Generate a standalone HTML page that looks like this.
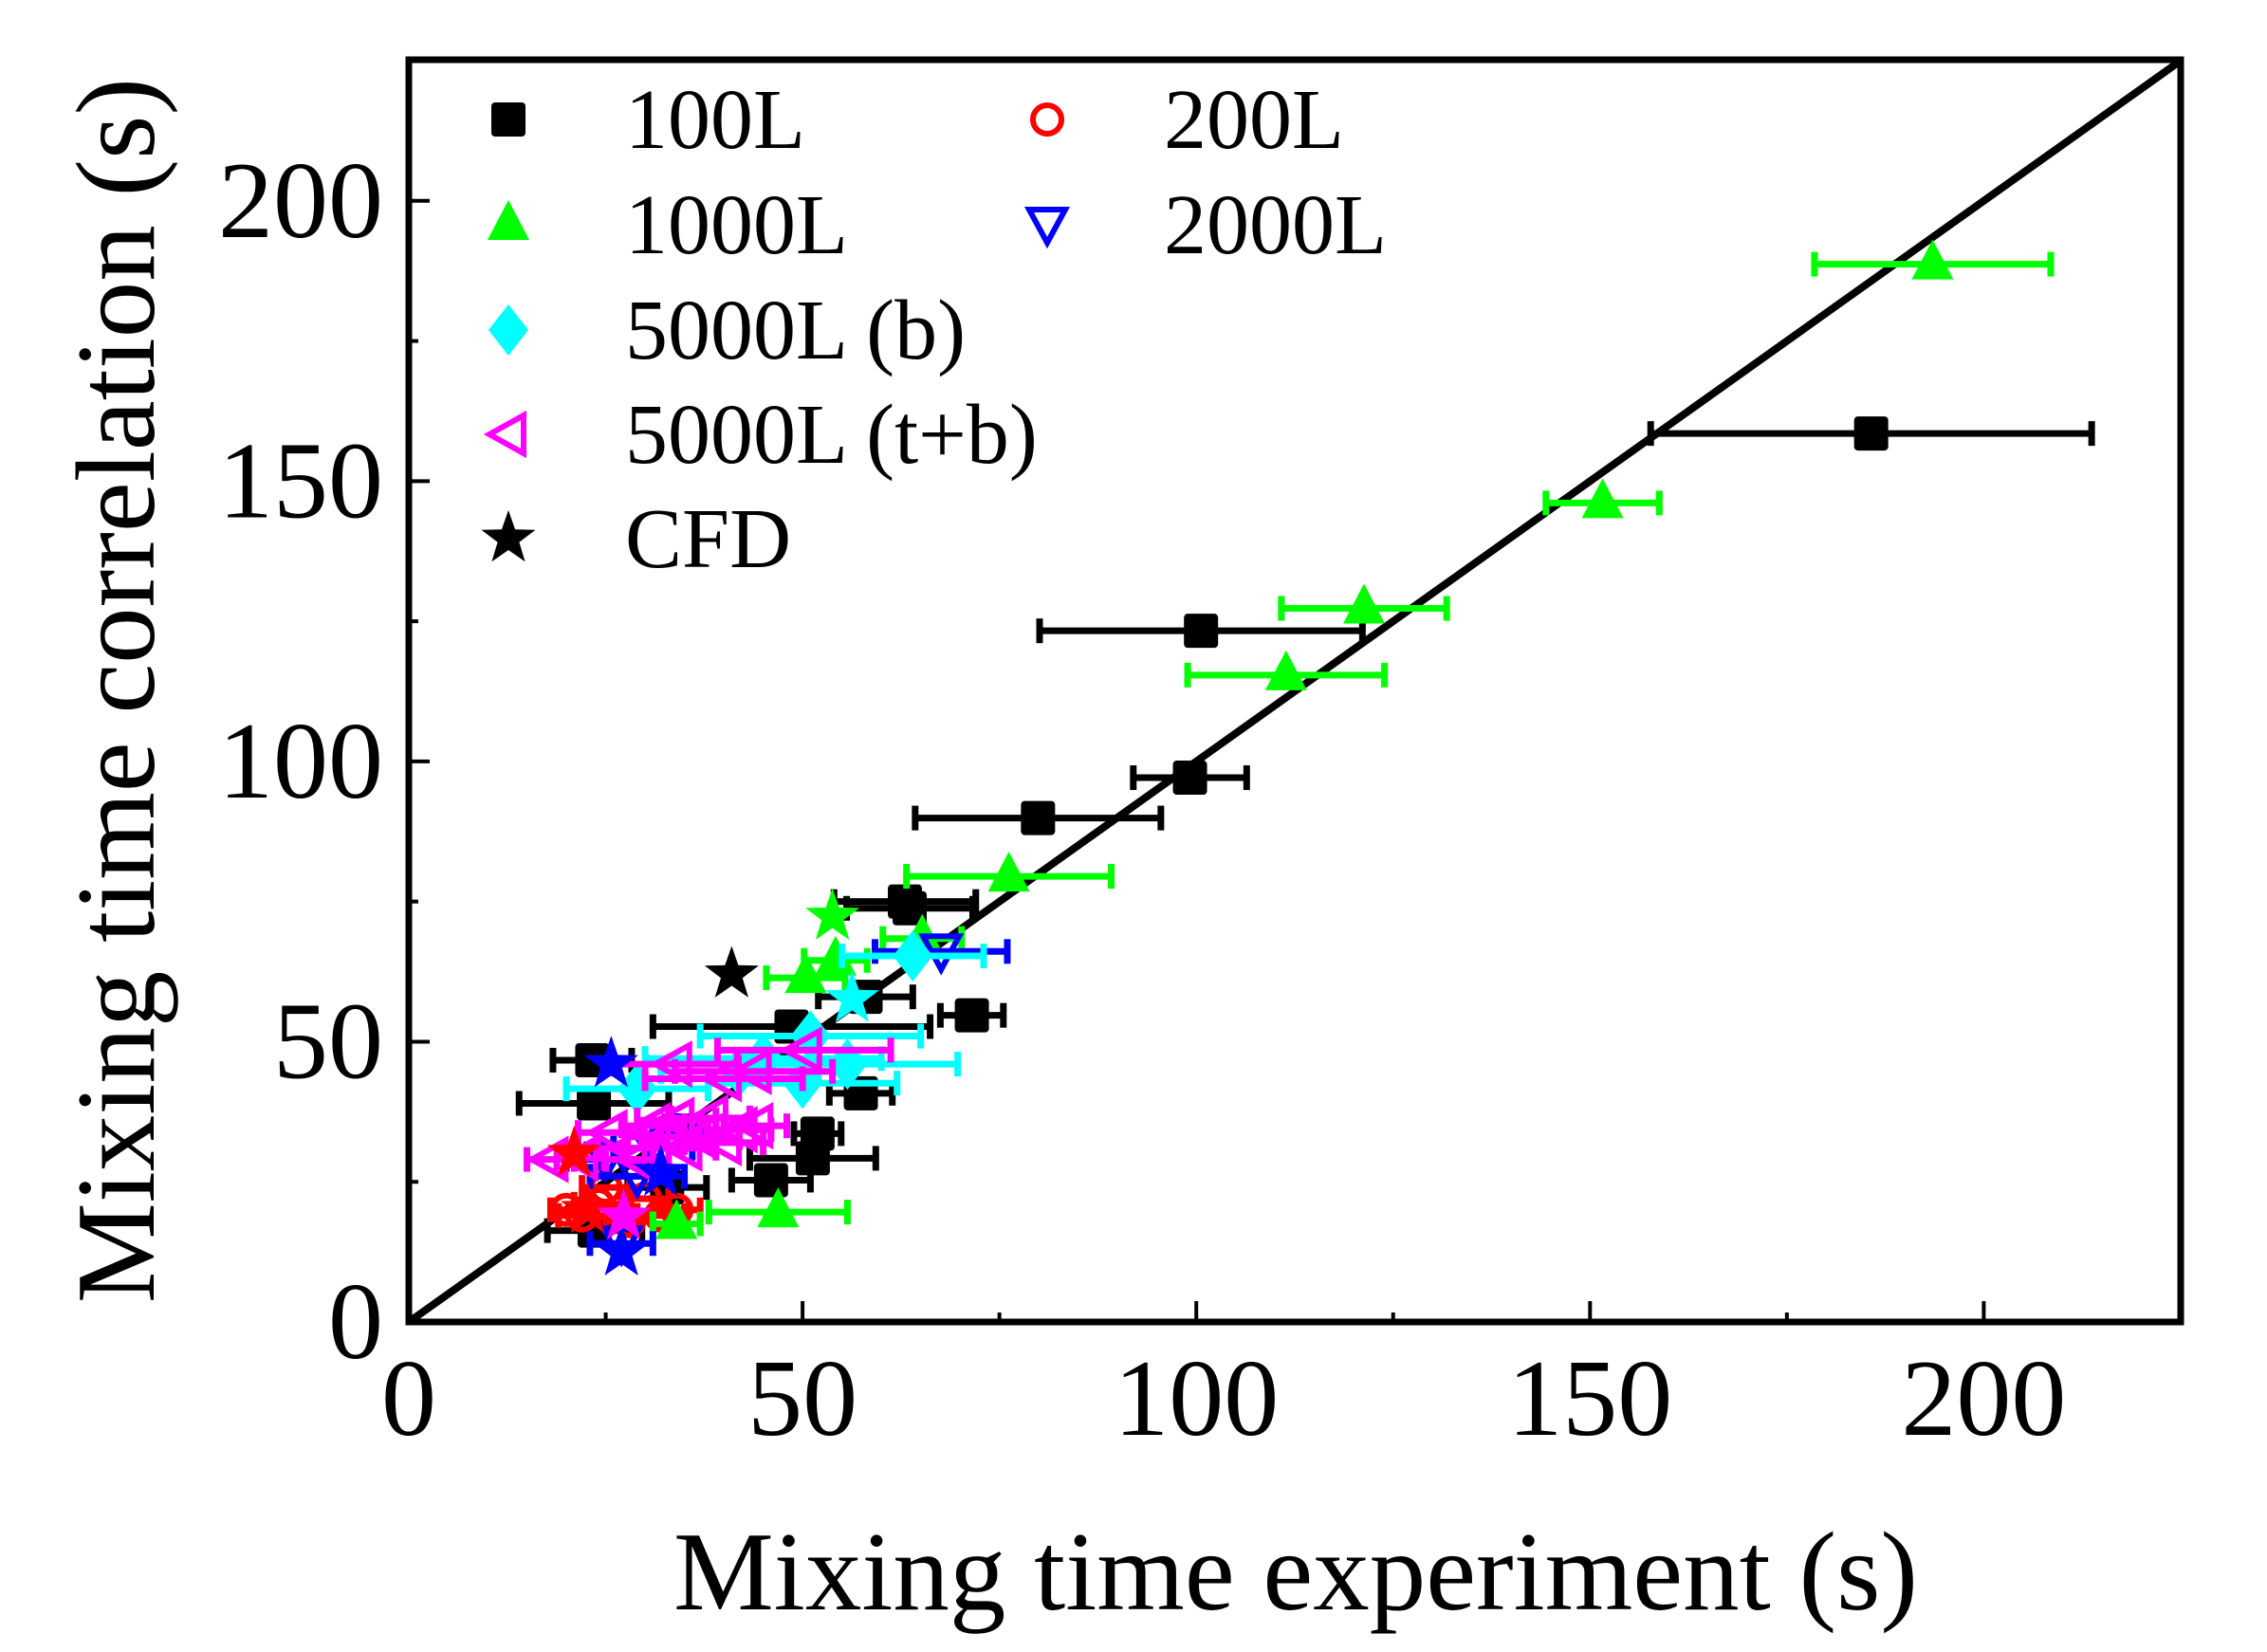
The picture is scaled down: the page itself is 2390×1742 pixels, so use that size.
<!DOCTYPE html>
<html><head><meta charset="utf-8"><style>
html,body{margin:0;padding:0;background:#fff;}
svg{display:block;font-family:"Liberation Serif",serif;}
</style></head><body>
<svg id="chart" width="2390" height="1742" viewBox="0 0 2390 1742" xmlns="http://www.w3.org/2000/svg">
<g id="grid"></g>
<g id="marks"></g>
<g id="axes"></g>
<g id="legend"></g>
<text x="1366" y="1697" font-size="119" text-anchor="middle">Mixing time experiment (s)</text>
<text transform="translate(162,728) rotate(-90)" font-size="119" text-anchor="middle">Mixing time correlation (s)</text>
</svg>
<script>
const xTicks=[0,50,100,150,200];
const yTicks=[0,50,100,150,200];
const minorTicks=[25,75,125,175];
// 100L
const s100x=[185.7,100.6,99.2,79.9,63.6,71.5,48.6,57.4,51.9,51.3,46,23.3,23.5,23.6,32.8,58,63];
const s100y=[158.5,123.3,97.1,89.9,73.8,54.7,52.7,40.8,33.6,29.2,25.3,46.7,39,16.3,24,58,75];
const s100e=[28,20.5,7.2,15.6,8,4,17.6,4,3,8,5,5,9.5,6,5,6,9];
// 200L
const s200x=[22,24,32,20,28,30,34,25];
const s200y=[19,21,19,20,18,22,20,24];
const s200e=[3,3,3,2,3,3,3,3];
// 1000L
const s1000x=[193.5,151.6,121.3,111.4,76.2,65.2,54.2,50.4,46.9,34];
const s1000y=[188.7,146.1,127.3,115.4,79.5,68.4,64.5,61.4,19.6,17.5];
const s1000e=[15,7.2,10.5,12.5,13,5,4,5,8.8,3];
// 2000L
const s2000x=[67.6,25,29,27,31,35];
const s2000y=[66.1,29,26,14,31,34];
const s2000e=[8.4,5,6,4,5,4];
// 5000L (b)
const s5bx=[64,51,42,29,55.7,50,45];
const s5by=[65.3,51,44.7,41.6,46,42.6,47];
const s5be=[9,14,10,9,14,12,15];
// 5000L (t+b)
const s5tx=[33.7,50.2,43.8,40,25.5,32.8,38.3,42,29,21.8,18,35,31,37,40,44,28,34];
const s5ty=[46,48.5,44.7,43.4,33.8,33,36.4,34.3,29,29.2,29,31,35,33,32,35,31,36];
const s5te=[8,11,10,10,4,5,5,4,4,3,3,4,4,5,5,4,4,5];
// CFD stars (series index selects colour)
const cfdX=[41,53.8,56.3,21,22.7,25.7,32,27,27.3];
const cfdY=[62,72.3,57.6,30,20,46,26.6,12.4,18.8];
const cfdSeries=[0,2,4,1,1,3,3,3,5];

const X=v=>431+v*8.302, Y=v=>1394-v*5.911;
const NS="http://www.w3.org/2000/svg";
function mk(tag,attrs,parent){const e=document.createElementNS(NS,tag);for(const k in attrs)e.setAttribute(k,attrs[k]);parent.appendChild(e);return e;}
const marks=document.getElementById('marks'),axes=document.getElementById('axes'),legend=document.getElementById('legend');
const colors=['#000','#f00','#0f0','#00f','#0ff','#f0f'];

function shape(kind,cx,cy,col,parent){
  let e;const r=18;
  if(kind==='sq'){e=mk('rect',{x:cx-r,y:cy-r,width:2*r,height:2*r,rx:4,fill:col},parent);}
  else if(kind==='ci'){e=mk('circle',{cx:cx,cy:cy,r:15,fill:'none',stroke:col,'stroke-width':6},parent);}
  else if(kind==='tu'){e=mk('polygon',{points:`${cx},${cy-26} ${cx+22},${cy+16} ${cx-22},${cy+16}`,fill:col},parent);}
  else if(kind==='td'){e=mk('polygon',{points:`${cx-19},${cy-16} ${cx+19},${cy-16} ${cx},${cy+19}`,fill:'none',stroke:col,'stroke-width':6},parent);}
  else if(kind==='di'){e=mk('polygon',{points:`${cx},${cy-27} ${cx+21},${cy} ${cx},${cy+27} ${cx-21},${cy}`,fill:col},parent);}
  else if(kind==='tl'){e=mk('polygon',{points:`${cx-20},${cy} ${cx+16},${cy-20} ${cx+16},${cy+20}`,fill:'none',stroke:col,'stroke-width':6},parent);}
  else {let p=[];for(let i=0;i<10;i++){const a=-Math.PI/2+i*Math.PI/5,rr=i%2?12:30;p.push((cx+rr*Math.cos(a)).toFixed(1)+','+(cy+rr*Math.sin(a)).toFixed(1));}
    e=mk('polygon',{points:p.join(' '),fill:col},parent);}
  return e;
}
// frame
const fr=mk('rect',{x:431,y:63,width:1868,height:1331,fill:'none',stroke:'#000','stroke-width':7},axes);


// ticks
xTicks.forEach(t=>{
  const l=mk('line',{x1:X(t),x2:X(t),y1:1394,y2:1372,stroke:'#000','stroke-width':4},axes);
  
  
  const tx=mk('text',{x:X(t),y:1513,'font-size':116,'text-anchor':'middle'},axes);tx.textContent=t;
  
  
});
yTicks.forEach(t=>{
  const l=mk('line',{x1:431,x2:453,y1:Y(t),y2:Y(t),stroke:'#000','stroke-width':4},axes);
  
  
  const tx=mk('text',{x:404,y:Y(t)+38,'font-size':116,'text-anchor':'end'},axes);tx.textContent=t;
  
  
});
minorTicks.forEach(t=>{
  const a=mk('line',{x1:X(t),x2:X(t),y1:1394,y2:1384,stroke:'#000','stroke-width':4},axes);
  
  
  const b=mk('line',{x1:431,x2:441,y1:Y(t),y2:Y(t),stroke:'#000','stroke-width':4},axes);
  
  
});
// diagonal
const dg=mk('line',{x1:X(0),y1:Y(0),x2:X(225),y2:Y(225),stroke:'#000','stroke-width':8},marks);



const series=[
 {n:'100l',xs:s100x,ys:s100y,es:s100e,k:'sq',c:colors[0]},
 {n:'200l',xs:s200x,ys:s200y,es:s200e,k:'ci',c:colors[1]},
 {n:'1000l',xs:s1000x,ys:s1000y,es:s1000e,k:'tu',c:colors[2]},
 {n:'2000l',xs:s2000x,ys:s2000y,es:s2000e,k:'td',c:colors[3]},
 {n:'5000l-b',xs:s5bx,ys:s5by,es:s5be,k:'di',c:colors[4]},
 {n:'5000l-tb',xs:s5tx,ys:s5ty,es:s5te,k:'tl',c:colors[5]}
];
series.forEach(s=>{
  s.xs.forEach((xv,i)=>{
    const g=mk('g',{},marks);
    
    
    const x1=X(xv-s.es[i]),x2=X(xv+s.es[i]),y=Y(s.ys[i]);
    mk('line',{x1:x1,x2:x2,y1:y,y2:y,stroke:s.c,'stroke-width':7},g);
    mk('line',{x1:x1,x2:x1,y1:y-13,y2:y+13,stroke:s.c,'stroke-width':7},g);
    mk('line',{x1:x2,x2:x2,y1:y-13,y2:y+13,stroke:s.c,'stroke-width':7},g);
    shape(s.k,X(xv),y,s.c,g);
  });
});
cfdX.forEach((xv,i)=>{
  const st=shape('st',X(xv),Y(cfdY[i]),colors[cfdSeries[i]],marks);
  
  
});
// legend
const leg=[['sq','#000','100L',536,126],['ci','#f00','200L',1104,126],['tu','#0f0','1000L',536,237],['td','#00f','2000L',1104,237],['di','#0ff','5000L (b)',536,348],['tl','#f0f','5000L (t+b)',536,458],['st','#000','CFD',536,568]];
leg.forEach(L=>{
  const g=mk('g',{},legend);
  
  
  shape(L[0],L[3],L[4],L[1],g);
  const t=mk('text',{x:L[3]+123,y:L[4]+30,'font-size':90},g);t.textContent=L[2];
});
</script>
</body></html>
